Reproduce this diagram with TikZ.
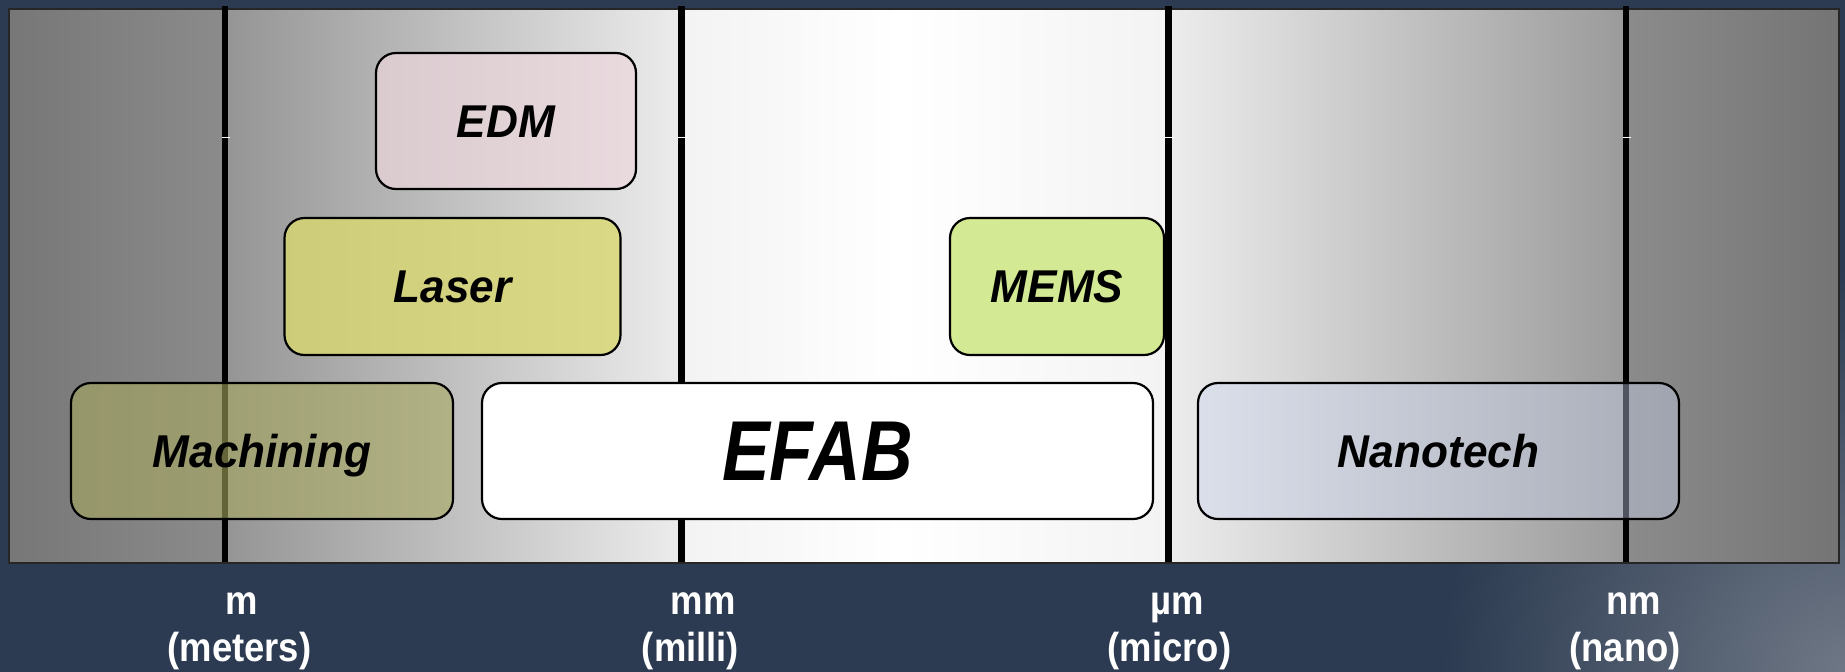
\documentclass[tikz,border=0pt]{standalone}
\usepackage{fontspec}
\setmainfont{Liberation Sans}
\newfontfamily\procfont[FakeStretch=0.96]{Liberation Sans}
\newfontfamily\efabfont[FakeStretch=0.84]{Liberation Sans}
\newfontfamily\unitfont[FakeStretch=0.9]{Liberation Sans}

\definecolor{bgnavy}{HTML}{2C3B51}
\definecolor{bgcorner}{HTML}{6E7785}
\definecolor{panA}{HTML}{777777}
\definecolor{panB}{HTML}{8B8B8B}
\definecolor{panC}{HTML}{959595}
\definecolor{panD}{HTML}{ECECEC}
\definecolor{panE}{HTML}{F3F3F3}
\definecolor{panF}{HTML}{9B9B9B}
\definecolor{panG}{HTML}{8B8B8B}
\definecolor{panH}{HTML}{747474}
\definecolor{edmpink}{HTML}{EDD7DD}
\definecolor{laseryel}{HTML}{D8D870}
\definecolor{memsgrn}{HTML}{D2E98E}
\definecolor{machol}{HTML}{A8A860}
\definecolor{nanoblue}{HTML}{C8D4F0}

\pgfdeclarehorizontalshading{panelshade}{100bp}{color(0bp)=(panA); color(25bp)=(panA);
  color(30.85bp)=(panB); color(30.98bp)=(panC); color(43.36bp)=(panD);
  color(43.5bp)=(panE); color(49.34bp)=(white); color(56.6bp)=(panE);
  color(56.78bp)=(panD); color(69.1bp)=(panF); color(69.26bp)=(panG);
  color(75bp)=(panH); color(100bp)=(panH)}
\pgfdeclareradialshading{cornerglow}{\pgfpointorigin}{color(0bp)=(bgcorner);
  color(5.3bp)=(bgnavy); color(50bp)=(bgnavy)}

\begin{document}
\begin{tikzpicture}[x=0.5pt, y=-0.5pt,
    procbox/.style={draw=black, line width=1.1pt, rounded corners=10pt,
      inner sep=0pt, minimum height=68pt, text opacity=1,
      font={\procfont\bfseries\itshape\fontsize{23pt}{23pt}\selectfont},
      text height=16.5pt, text depth=0.5pt},
    unitlbl/.style={text=white, anchor=base, inner sep=0pt,
      font={\unitfont\bfseries\fontsize{20.25pt}{24pt}\selectfont}},
    scaleline/.style={line width=3.3pt, black}]
  \useasboundingbox (0,0) rectangle (1845,671);

  % Фон
  \begin{scope}
    \clip (0,0) rectangle (1845,671);
    \shade[shading=cornerglow] (-55,-1229) rectangle (3745,2571);
  \end{scope}

  % Шкала
  \shade[shading=panelshade] (9,9) rectangle (1839,563);
  \draw[line width=1.2pt, black!85] (9,9) rectangle (1839,563);

  % Деления
  \foreach \x in {225, 681.5, 1168.7, 1626} {
    \draw[scaleline] (\x,6) -- (\x,562);
    \draw[white, line width=0.5pt] (\x-3.5,137) -- (\x+5,137);
  }

  % Технологии
  \node[procbox, fill=edmpink, fill opacity=0.69, minimum width=130pt] (edm) at (506,121) {EDM};
  \node[procbox, fill=laseryel, fill opacity=0.8, minimum width=168pt, minimum height=68.5pt] (laser) at (452.5,286.5) {Laser};
  \node[procbox, fill=memsgrn, fill opacity=0.95, minimum width=107pt, minimum height=68.5pt] (mems) at (1057,286.5) {MEMS};
  \node[procbox, fill=machol, fill opacity=0.6, minimum width=191pt] (mach) at (262,451) {Machining};
  \node[procbox, fill=white, minimum width=335.5pt, text height=30.4pt,
    font={\efabfont\bfseries\itshape\fontsize{42.5pt}{42.5pt}\selectfont}] (efab) at (817.5,451) {EFAB};
  \node[procbox, fill=nanoblue, fill opacity=0.4, minimum width=240.5pt] (nano) at (1438.5,451) {Nanotech};

  % Подписи
  \node[unitlbl] (mU) at (241.7,614) {m};
  \node[unitlbl] (mN) at (239.5,661.7) {(meters)};
  \node[unitlbl] (mmU) at (703,614) {mm};
  \node[unitlbl] (mmN) at (690.5,661.7) {(milli)};
  \node[unitlbl] (umU) at (1176.8,614) {µm};
  \node[unitlbl] (umN) at (1169.6,661.7) {(micro)};
  \node[unitlbl] (nmU) at (1634,614) {nm};
  \node[unitlbl] (nmN) at (1625,661.7) {(nano)};
\end{tikzpicture}
\end{document}
